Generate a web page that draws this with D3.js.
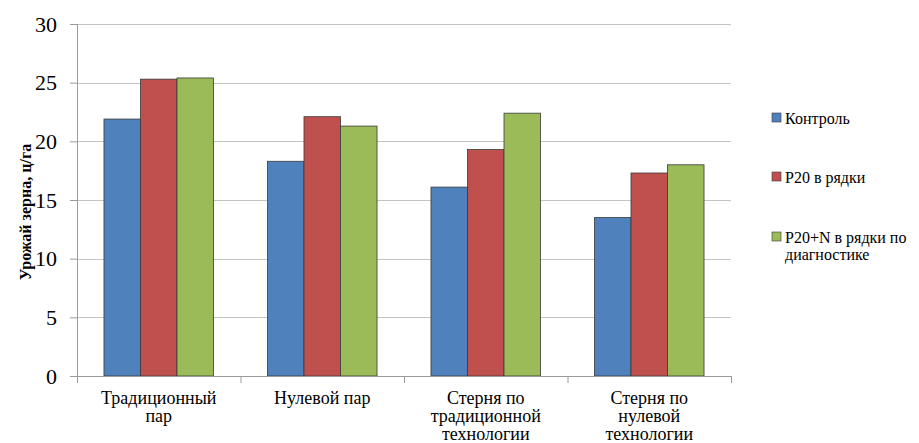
<!DOCTYPE html>
<html>
<head>
<meta charset="utf-8">
<script src="https://cdn.jsdelivr.net/npm/d3@7"></script>
<style>
  html, body { margin: 0; padding: 0; background: #fff; }
  svg { display: block; }
</style>
</head>
<body>
<svg id="chart" width="919" height="443"></svg>
<script>
// Yield by soil treatment and fertiliser variant
const categories = [
  ["Традиционный", "пар"],
  ["Нулевой  пар"],
  ["Стерня по", "традиционной", "технологии"],
  ["Стерня по", "нулевой", "технологии"]
];
const seriesNames = ["Контроль", "P20 в рядки", "P20+N в рядки по диагностике"];
const control = [21.9, 18.3, 16.1, 13.5];
const p20 = [25.3, 22.1, 19.3, 17.3];
const p20n = [25.4, 21.3, 22.4, 18.0];
const yTicks = [0, 5, 10, 15, 20, 25, 30];
const colors = ["#4F81BD", "#C0504D", "#9BBB59"];
const yLabel = "Урожай зерна, ц/га";

const FONT = "'Liberation Serif', 'DejaVu Serif', serif";
const series = [control, p20, p20n];
const svg = d3.select("#chart");
const plotL = 77, plotR = 731, plotT = 24, plotB = 376;

const x = d3.scaleBand().domain(d3.range(categories.length)).range([plotL, plotR]).paddingInner(0).paddingOuter(0);
const y = d3.scaleLinear().domain([0, 30]).range([plotB, plotT]);
const groupW = x.bandwidth() * 0.67;
const xs = d3.scaleBand().domain(d3.range(series.length)).range([0, groupW]);

// gridlines
svg.append("g").selectAll("line").data(yTicks.filter(d => d > 0)).join("line")
  .attr("x1", plotL).attr("x2", plotR)
  .attr("y1", d => Math.round(y(d)) + 0.5).attr("y2", d => Math.round(y(d)) + 0.5)
  .attr("stroke", "#c4c4c4").attr("stroke-width", 1);

// bars
series.forEach((vals, si) => {
  svg.append("g").selectAll("rect").data(vals).join("rect")
    .attr("x", (d, i) => x(i) + (x.bandwidth() - groupW) / 2 + xs(si))
    .attr("y", d => y(d))
    .attr("width", xs.bandwidth())
    .attr("height", d => y(0) - y(d))
    .attr("fill", colors[si])
    .attr("stroke", "#3a3a3a").attr("stroke-width", 0.8);
});

// y axis
const yAxis = d3.axisLeft(y).tickValues(yTicks).tickSize(7).tickPadding(13);
const gy = svg.append("g").attr("transform", `translate(${plotL},0)`).call(yAxis);
gy.select(".domain").attr("stroke", "#9a9a9a").attr("d", `M0.5,${plotT}V${plotB}`);
gy.selectAll(".tick line").attr("stroke", "#9a9a9a");
gy.selectAll(".tick text").style("font-family", FONT).style("font-size", "22px").attr("fill", "#000");

// x axis
const gx = svg.append("g").attr("transform", `translate(0,${plotB})`);
gx.append("line").attr("x1", plotL).attr("x2", plotR).attr("y1", 0.5).attr("y2", 0.5).attr("stroke", "#9a9a9a");
gx.selectAll(".tk").data(d3.range(categories.length + 1)).join("line")
  .attr("x1", i => (i < categories.length ? x(i) : plotR) + 0.5)
  .attr("x2", i => (i < categories.length ? x(i) : plotR) + 0.5)
  .attr("y1", 0).attr("y2", 7).attr("stroke", "#9a9a9a");
categories.forEach((lines, i) => {
  const t = gx.append("text").attr("text-anchor", "middle")
    .style("font-family", FONT).style("font-size", "18px").attr("fill", "#000");
  lines.forEach((ln, k) => {
    t.append("tspan").attr("x", x(i) + x.bandwidth() / 2).attr("y", 28 + k * 18).text(ln);
  });
});

// y label
svg.append("text")
  .attr("transform", `translate(31,${(plotT + plotB) / 2 + 12}) rotate(-90)`)
  .attr("text-anchor", "middle")
  .style("font-family", FONT).style("font-size", "16px").style("font-weight", "bold")
  .text(yLabel);

// legend
const legendRows = [["Контроль"], ["P20 в рядки"], ["P20+N в рядки по", "диагностике"]];
const ly = [118, 177, 237];
legendRows.forEach((lines, i) => {
  svg.append("rect").attr("x", 772).attr("y", ly[i] - 5).attr("width", 9).attr("height", 9)
    .attr("fill", colors[i]).attr("stroke", "#3a3a3a").attr("stroke-width", 0.6);
  const t = svg.append("text").style("font-family", FONT).style("font-size", "16px")
    .attr("fill", "#000").attr("data-series", seriesNames[i]);
  lines.forEach((ln, k) => {
    t.append("tspan").attr("x", 785).attr("y", ly[i] + 5.5 + k * 17).text(ln);
  });
});
</script>
</body>
</html>
